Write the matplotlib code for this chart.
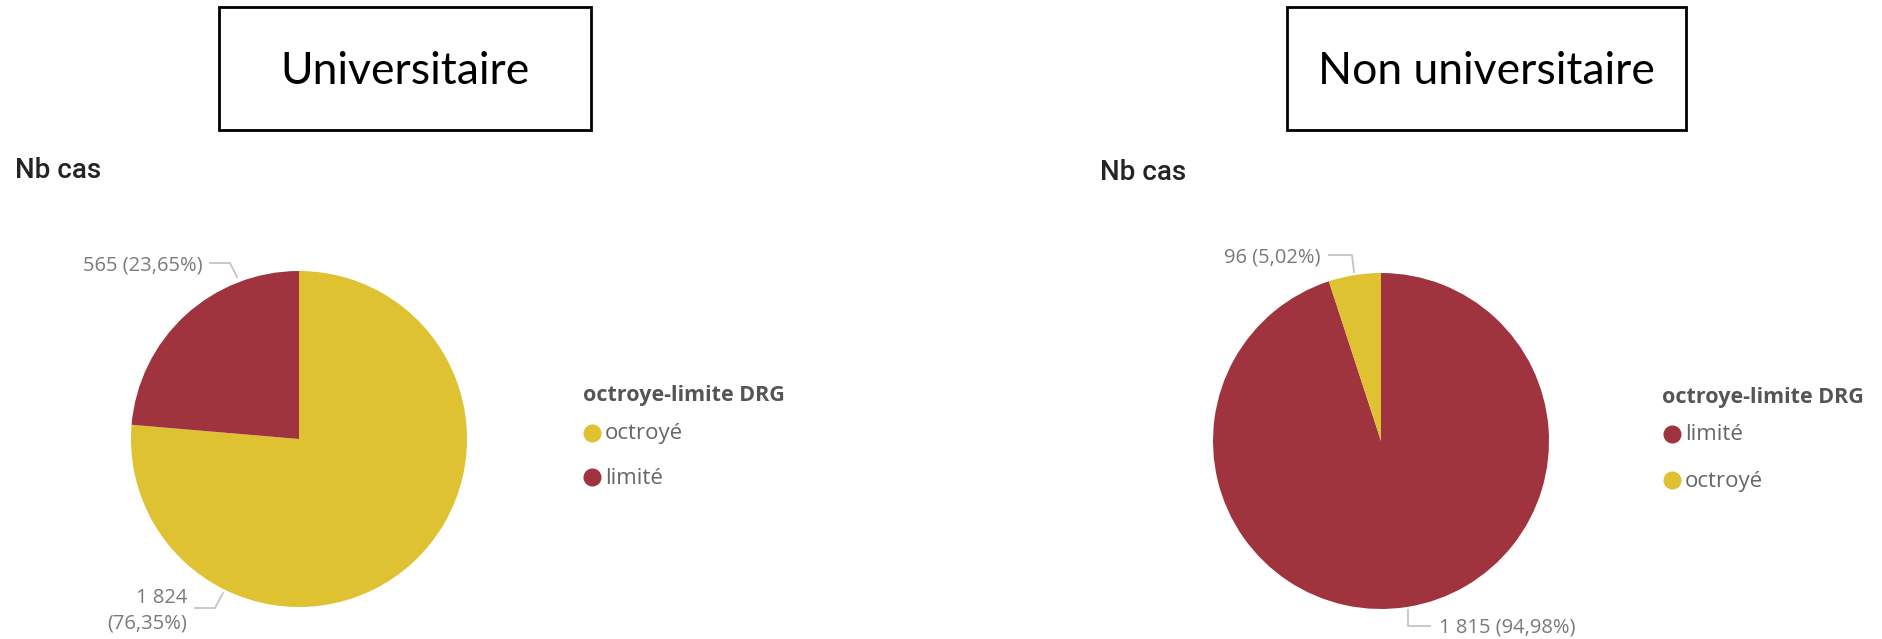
import matplotlib
matplotlib.use("Agg")
import matplotlib.pyplot as plt
from matplotlib.patches import Rectangle

# ---------------- data ----------------
panel_titles = ["Universitaire", "Non universitaire"]
measure_title = "Nb cas"
legend_title = "octroye-limite DRG"
left_categories = ["octroyé", "limité"]
left_values = [1824, 565]
right_categories = ["limité", "octroyé"]
right_values = [1815, 96]

COL = {"octroyé": "#DFC232", "limité": "#A0343E"}

W, H = 1883, 639
fig = plt.figure(figsize=(W / 100, H / 100), dpi=100)
ax = fig.add_axes([0, 0, 1, 1])


def Y(y):
    return H - y


def fmt_num(v):
    return f"{v:,}".replace(",", " ")


def fmt_pct(v, tot):
    return f"{v / tot * 100:.2f}%".replace(".", ",")


LABEL_COLOR = "#7a7a7a"
LEAD_COLOR = "#c4c4c4"
FONT = "Open Sans"

# ---------------- title boxes ----------------
boxes = [(219, 7, 591, 130), (1287, 7, 1686, 130)]
for (x0, y0, x1, y1), t in zip(boxes, panel_titles):
    ax.add_patch(Rectangle((x0, Y(y1)), x1 - x0, y1 - y0, fill=False,
                           edgecolor="black", linewidth=2.0))
    ax.text((x0 + x1) / 2, Y(72), t, ha="center", va="center",
            fontsize=32, family="Lato", color="black")

# ---------------- "Nb cas" ----------------
for x, y in [(15, 170), (1100, 172)]:
    ax.text(x, Y(y), measure_title, ha="left", va="center", fontsize=20,
            family="Roboto", fontweight="medium", color="#252423")

# ---------------- pies ----------------
pies = [
    (left_categories, left_values, (299, 439)),
    (right_categories, right_values, (1381, 441)),
]
R = 168
for cats, vals, (cx, cy) in pies:
    ax.pie(vals, colors=[COL[c] for c in cats], startangle=90,
           counterclock=False, center=(cx, Y(cy)), radius=R,
           wedgeprops=dict(linewidth=0))

# ---------------- data labels with leaders ----------------
lt = sum(left_values)
rt = sum(right_values)
lab_kw = dict(fontsize=14.5, family=FONT, color=LABEL_COLOR)

# left: limité
v = left_values[1]
ax.text(203, Y(265), f"{fmt_num(v)} ({fmt_pct(v, lt)})", ha="right",
        va="center", **lab_kw)
ax.plot([210, 230, 237], [Y(263), Y(263), Y(277)], color=LEAD_COLOR, lw=1.3)

# left: octroyé (two lines)
v = left_values[0]
ax.text(187, Y(611), f"{fmt_num(v)}\n({fmt_pct(v, lt)})", ha="right",
        va="center", linespacing=1.35, multialignment="right", **lab_kw)
ax.plot([195, 215, 223], [Y(608), Y(608), Y(593)], color=LEAD_COLOR, lw=1.3)

# right: octroyé
v = right_values[1]
ax.text(1321, Y(258), f"{fmt_num(v)} ({fmt_pct(v, rt)})", ha="right",
        va="center", **lab_kw)
ax.plot([1329, 1352, 1354], [Y(255), Y(255), Y(272)], color=LEAD_COLOR, lw=1.3)

# right: limité
v = right_values[0]
ax.text(1439, Y(628), f"{fmt_num(v)} ({fmt_pct(v, rt)})", ha="left",
        va="center", **lab_kw)
ax.plot([1408, 1408, 1430], [Y(610), Y(626), Y(626)], color=LEAD_COLOR, lw=1.3)

# ---------------- legends ----------------
legends = [
    (left_categories, 583, 396, 592, 605, [433, 477]),
    (right_categories, 1662, 398, 1672, 1685, [434, 480]),
]
for cats, tx, ty, mx, txt_x, ys in legends:
    ax.text(tx, Y(ty), legend_title, ha="left", va="center", fontsize=15.5,
            family=FONT, fontweight="bold", color="#555555")
    for c, yy in zip(cats, ys):
        ax.plot([mx], [Y(yy)], marker="o", markersize=12, color=COL[c],
                linestyle="none")
        ax.text(txt_x, Y(yy + 1), c, ha="left", va="center", fontsize=16,
                family=FONT, color="#666666")

ax.set_xlim(0, W)
ax.set_ylim(0, H)
ax.set_aspect("equal")
ax.axis("off")

fig.savefig("out.png", dpi=100, facecolor="white")
